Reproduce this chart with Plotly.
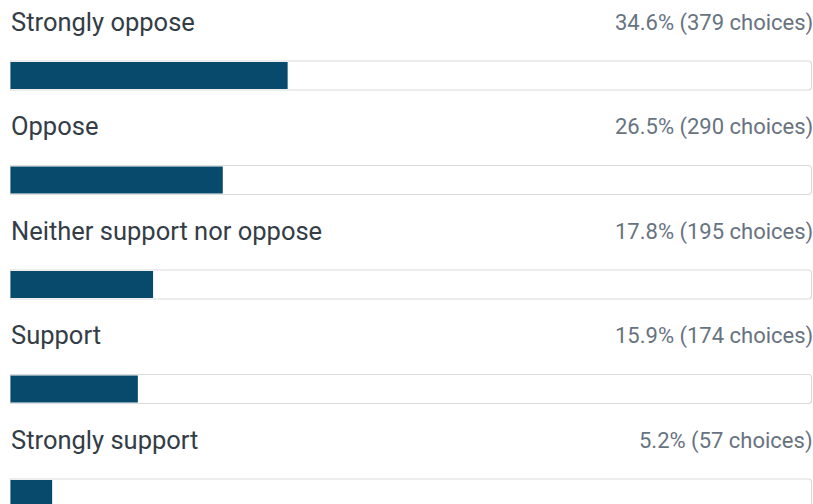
import plotly.graph_objects as go

categories = ["Strongly oppose", "Oppose", "Neither support nor oppose", "Support", "Strongly support"]
percents = [34.6, 26.5, 17.8, 15.9, 5.2]
counts = [379, 290, 195, 174, 57]

W, H = 813, 504
row_px = 104.5
first_center = 75.5
px_per_unit = 8.01
x0_px = 10.5

ypos = list(range(len(categories)))
y_top = -first_center / row_px
y_bot = (H - first_center) / row_px
bar_w = 29 / row_px

fig = go.Figure()
fig.add_trace(go.Bar(
    x=[100] * len(categories), y=ypos, orientation="h", width=bar_w,
    marker=dict(color="white", line=dict(color="#dcdcdc", width=1.2)),
    hoverinfo="skip", showlegend=False,
))
fig.add_trace(go.Bar(
    x=percents, y=ypos, orientation="h", width=bar_w - 2 / row_px,
    marker=dict(color="#084a6b", line=dict(width=0)),
    hovertemplate="%{x}%<extra></extra>", showlegend=False,
))

annotations = []
for i, (c, p, n) in enumerate(zip(categories, percents, counts)):
    annotations.append(dict(
        x=0, y=i, xref="x", yref="y", text=c, showarrow=False,
        xanchor="left", yanchor="middle", yshift=54, xshift=-2,
        font=dict(family="Roboto, Arial", size=25.5, color="#343d46"),
    ))
    annotations.append(dict(
        x=100, y=i, xref="x", yref="y", text=f"{p}% ({n} choices)", showarrow=False,
        xanchor="right", yanchor="middle", yshift=53, xshift=3,
        font=dict(family="Roboto, Arial", size=22, color="#687380"),
    ))

fig.update_layout(
    width=W, height=H, margin=dict(l=0, r=0, t=0, b=0),
    paper_bgcolor="white", plot_bgcolor="white",
    barmode="overlay", barcornerradius=3,
    xaxis=dict(range=[-x0_px / px_per_unit, (W - x0_px) / px_per_unit],
               visible=False, fixedrange=True),
    yaxis=dict(range=[y_bot, y_top], visible=False, fixedrange=True),
    annotations=annotations,
)

fig.write_html("out.html")
